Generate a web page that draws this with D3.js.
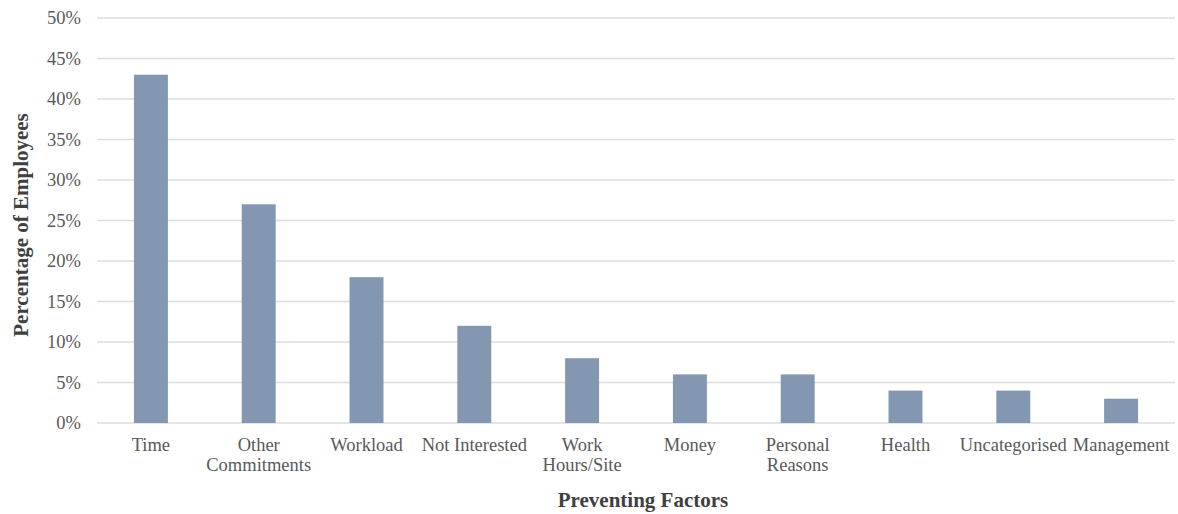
<!DOCTYPE html>
<html>
<head>
<meta charset="utf-8">
<script src="https://cdn.jsdelivr.net/npm/d3@7"></script>
<style>
  html, body { margin: 0; padding: 0; background: #fff; }
  svg { display: block; }
  text { font-family: "Liberation Serif", "Times New Roman", serif; }
</style>
</head>
<body>
<svg id="chart" width="1178" height="514"></svg>
<script>
// Factors preventing participation, share of employees
const categories = [
  ["Time"],
  ["Other", "Commitments"],
  ["Workload"],
  ["Not Interested"],
  ["Work", "Hours/Site"],
  ["Money"],
  ["Personal", "Reasons"],
  ["Health"],
  ["Uncategorised"],
  ["Management"]
];
const values = [43, 27, 18, 12, 8, 6, 6, 4, 4, 3];
const yTicks = [0, 5, 10, 15, 20, 25, 30, 35, 40, 45, 50];
const xTitle = "Preventing Factors";
const yTitle = "Percentage of Employees";

const svg = d3.select("#chart");
const margin = { top: 18, right: 3, bottom: 91, left: 97 };
const W = 1178, H = 514;
const innerW = W - margin.left - margin.right;
const innerH = H - margin.top - margin.bottom;

const keys = categories.map(c => c.join(" "));
const x = d3.scaleBand().domain(keys).range([0, innerW]).paddingInner(0.685).paddingOuter(0.3425);
const y = d3.scaleLinear().domain([0, 50]).range([innerH, 0]);

const g = svg.append("g").attr("transform", `translate(${margin.left},${margin.top})`);

// Horizontal gridlines
g.append("g").selectAll("line").data(yTicks).join("line")
  .attr("x1", 0).attr("x2", innerW)
  .attr("y1", d => y(d)).attr("y2", d => y(d))
  .attr("stroke", "#dcdcdc").attr("stroke-width", 1.5);

// Y axis labels
const yAxis = d3.axisLeft(y).tickValues(yTicks).tickFormat(d => d + "%").tickSize(0).tickPadding(16);
const ya = g.append("g").call(yAxis);
ya.select(".domain").remove();
ya.selectAll("text").attr("font-size", 18.5).attr("fill", "#595959")
  .attr("font-family", "'Liberation Serif', serif");

// Bars
g.append("g").selectAll("rect").data(values).join("rect")
  .attr("x", (d, i) => x(keys[i]))
  .attr("width", x.bandwidth())
  .attr("y", d => y(d))
  .attr("height", d => innerH - y(d))
  .attr("fill", "#8497b0");

// Category labels (wrapped)
const xl = g.append("g").attr("transform", `translate(0,${innerH})`);
categories.forEach((lines, i) => {
  const t = xl.append("text")
    .attr("x", x(keys[i]) + x.bandwidth() / 2)
    .attr("y", 28)
    .attr("text-anchor", "middle")
    .attr("font-size", 18.5)
    .attr("fill", "#595959");
  lines.forEach((ln, j) => {
    t.append("tspan").attr("x", x(keys[i]) + x.bandwidth() / 2)
      .attr("dy", j === 0 ? 0 : 20).text(ln);
  });
});

// Axis titles
svg.append("text")
  .attr("x", 643)
  .attr("y", 507)
  .attr("text-anchor", "middle")
  .attr("font-size", 21).attr("font-weight", "bold").attr("fill", "#404040")
  .text(xTitle);

svg.append("text")
  .attr("transform", `translate(28,${225}) rotate(-90)`)
  .attr("text-anchor", "middle")
  .attr("font-size", 21).attr("font-weight", "bold").attr("fill", "#404040")
  .text(yTitle);
</script>
</body>
</html>
